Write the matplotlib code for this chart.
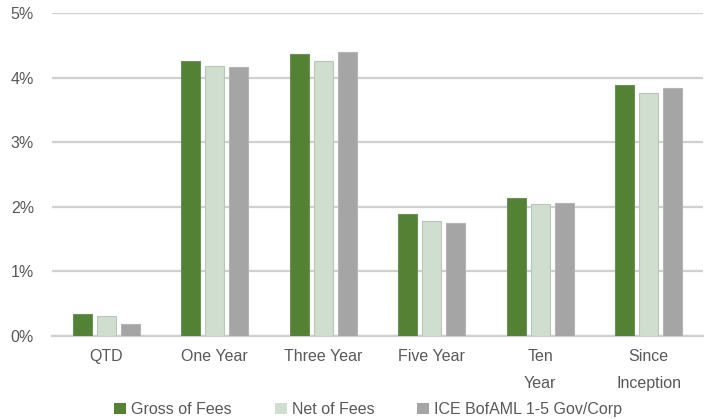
import matplotlib
matplotlib.use("Agg")
import matplotlib.pyplot as plt
import numpy as np

categories = ["QTD", "One Year", "Three Year", "Five Year", "Ten\nYear", "Since\nInception"]
gross = [0.33, 4.27, 4.37, 1.89, 2.14, 3.89]
net = [0.30, 4.18, 4.26, 1.78, 2.04, 3.77]
bench = [0.18, 4.17, 4.40, 1.74, 2.06, 3.84]
series_names = ["Gross of Fees", "Net of Fees", "ICE BofAML 1-5 Gov/Corp"]
yticks = [0, 1, 2, 3, 4, 5]
ytick_labels = ["0%", "1%", "2%", "3%", "4%", "5%"]

colors = ["#548235", "#D0DED0", "#A5A5A5"]
edges = ["#6E8F5A", "#B9C6B9", "#B5B5B5"]

plt.rcParams['font.family'] = ['Liberation Sans', 'DejaVu Sans']

fig = plt.figure(figsize=(7.07, 4.19), dpi=100)
ax = fig.add_axes([52/707, 1-335.5/419, (703-52)/707, (335.5-13.5)/419])

x = np.arange(len(categories))
w = 0.175
step = 0.221
for i, (vals, name) in enumerate(zip([gross, net, bench], series_names)):
    ax.bar(x + (i-1)*step, vals, width=w, color=colors[i], edgecolor=edges[i],
           linewidth=0.8, label=name, zorder=3)

ax.set_xlim(-0.5, len(categories)-0.5)
ax.set_ylim(0, 5)
ax.set_yticks(yticks)
ax.set_yticklabels(ytick_labels)
ax.set_xticks(x)
ax.set_xticklabels(categories, linespacing=1.95, va='top')
ax.grid(axis='y', color='#D0D0D0', linewidth=1.6, zorder=0)
for s in ['top', 'right', 'left']:
    ax.spines[s].set_visible(False)
ax.spines['bottom'].set_color('#D0D0D0')
ax.spines['bottom'].set_linewidth(1.6)
ax.tick_params(axis='both', length=0, colors='#595959', labelsize=11.5)
ax.tick_params(axis='x', pad=10)
ax.tick_params(axis='y', pad=13)

leg = fig.legend(loc='center', bbox_to_anchor=(0.521, 1-409.5/419), ncol=3, frameon=False,
                 fontsize=11.5, handlelength=0.75, handleheight=0.75, handletextpad=0.3,
                 columnspacing=2.7, labelcolor='#595959')
for h in leg.legend_handles:
    h.set_edgecolor('none')

fig.savefig("out.png", dpi=100)
